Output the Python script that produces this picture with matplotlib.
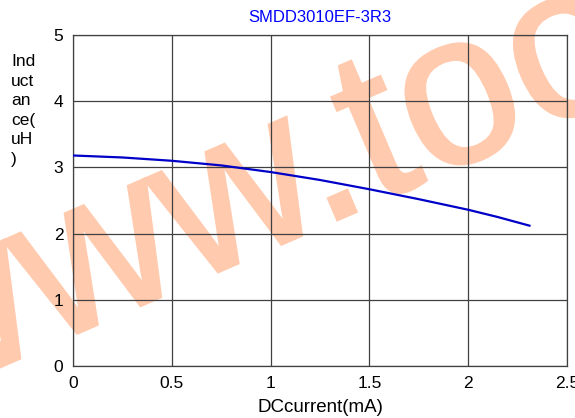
import matplotlib.pyplot as plt
import numpy as np
from matplotlib.textpath import TextPath
from matplotlib.patches import PathPatch
from matplotlib.font_manager import FontProperties
from matplotlib.transforms import Affine2D

plt.rcParams['font.family'] = ['Liberation Sans', 'DejaVu Sans']

# DC current (mA) vs inductance (uH)
current = [0.0, 0.25, 0.5, 0.75, 1.0, 1.25, 1.5, 1.75, 2.0, 2.15, 2.31]
inductance = [3.18, 3.15, 3.10, 3.03, 2.93, 2.81, 2.67, 2.52, 2.36, 2.25, 2.12]

x_ticks = [0, 0.5, 1, 1.5, 2, 2.5]
x_tick_labels = ['0', '0.5', '1', '1.5', '2', '2.5']
y_ticks = [0, 1, 2, 3, 4, 5]

title = 'SMDD3010EF-3R3'
y_label = 'Ind\nuct\nan\nce(\nuH\n)'
x_label = 'DCcurrent(mA)'
watermark = 'www.too'

fig = plt.figure(figsize=(5.75, 4.18), dpi=100)
ax = fig.add_axes([73 / 575, 1 - 366 / 418, 494 / 575, 331 / 418])
ax.patch.set_visible(False)

ax.plot(current, inductance, color='#0000c8', linewidth=1.6, zorder=3)

ax.set_xlim(0, 2.5)
ax.set_ylim(0, 5)
ax.set_xticks(x_ticks)
ax.set_xticklabels(x_tick_labels)
ax.set_yticks(y_ticks)
ax.tick_params(length=0, labelsize=12.5, pad=7)
ax.grid(True, color='#404040', linewidth=0.9)
for s in ax.spines.values():
    s.set_color('#404040')
    s.set_linewidth(0.9)

fig.text(320 / 575, 1 - 18 / 418, title, color='#0000ff', fontsize=12,
         ha='center', va='center')
fig.text(11 / 575, 1 - 54 / 418, y_label, fontsize=12.5, ha='left', va='top',
         linespacing=1.38)
fig.text(320 / 575, 1 - 407 / 418, x_label, fontsize=13.5, ha='center',
         va='center')

# watermark behind the plot: slanted, stretched text rising to the right
wm_path = TextPath((0, 0), watermark, size=1,
                   prop=FontProperties(family='Liberation Sans'))
wm_tr = Affine2D(np.array([[195.0, -85.0, -92.0],
                           [85.0, 199.0, 11.0],
                           [0, 0, 1]]))
fig.add_artist(PathPatch(wm_path, transform=wm_tr, facecolor='#ffcaad',
                         edgecolor='#ffcaad', linewidth=2.2, zorder=-1))

fig.savefig('out.png', dpi=100)
